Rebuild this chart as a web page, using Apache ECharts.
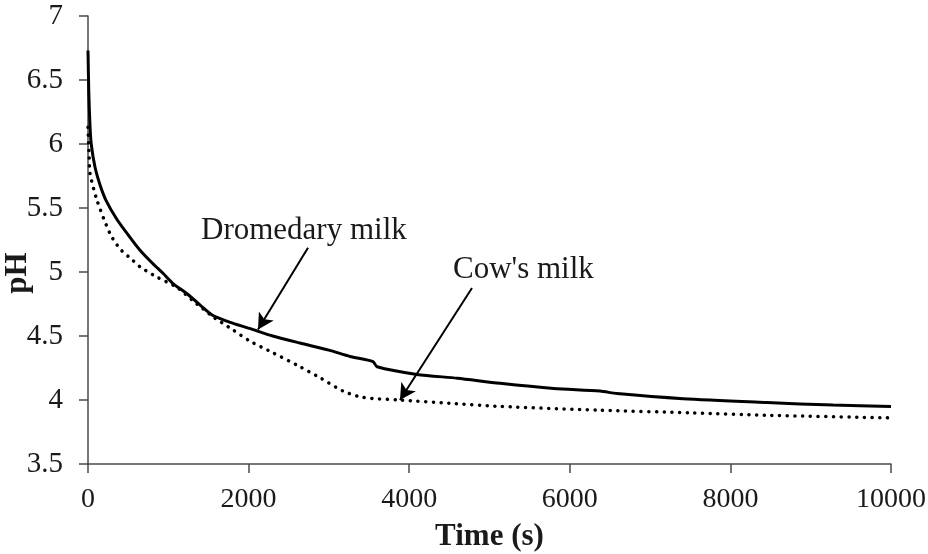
<!DOCTYPE html>
<html>
<head>
<meta charset="utf-8">
<script src="https://cdn.jsdelivr.net/npm/echarts@6/dist/echarts.min.js"></script>
<style>html,body{margin:0;padding:0;background:#fff}#c{width:928px;height:554px}</style>
</head>
<body>
<div id="c"></div>
<script>
// Time (s) and pH values
const dromTime = [0, 10, 25, 40, 87, 150, 224, 361, 500, 648, 800, 934, 1059, 1233, 1400, 1557, 1800, 2055, 2300, 2640, 3000, 3263, 3549, 3600, 4097, 4600, 5131, 5800, 6376, 6588, 7410, 8456, 9278, 10000];
const dromPH   = [6.73, 6.40, 6.14, 6.00, 5.82, 5.68, 5.56, 5.41, 5.29, 5.17, 5.07, 4.99, 4.91, 4.83, 4.74, 4.66, 4.60, 4.55, 4.50, 4.445, 4.39, 4.34, 4.30, 4.26, 4.20, 4.17, 4.13, 4.09, 4.07, 4.05, 4.01, 3.98, 3.96, 3.95];
const cowTime = [0, 15, 25, 112, 274, 400, 560, 648, 859, 1108, 1300, 1557, 1800, 2017, 2300, 2640, 2900, 3176, 3425, 3885, 4500, 5131, 6376, 7500, 8500, 10000];
const cowPH   = [6.13, 5.90, 5.77, 5.56, 5.30, 5.18, 5.09, 5.04, 4.96, 4.88, 4.78, 4.65, 4.55, 4.46, 4.37, 4.26, 4.17, 4.07, 4.02, 4.00, 3.975, 3.95, 3.92, 3.90, 3.88, 3.86];
const xTicks = [0, 2000, 4000, 6000, 8000, 10000];
const yTicks = [3.5, 4, 4.5, 5, 5.5, 6, 6.5, 7];
const seriesNames = ["Dromedary milk", "Cow's milk"];
// annotation arrows: [startTime, startPH] -> [endTime, endPH]
const dromArrow = [[2740, 5.19], [2117, 4.55]];
const cowArrow  = [[4782, 4.875], [3885, 4.0]];

const chart = echarts.init(document.getElementById('c'));
const font = '"Liberation Serif", "Times New Roman", serif';
const ink = '#1a1a1a';
const axisCol = '#4a4a4a';

function pairs(t, v) { return t.map((x, i) => [x, v[i]]); }

chart.setOption({
  animation: false,
  backgroundColor: '#fff',
  grid: { left: 88, right: 37, top: 16, bottom: 90, containLabel: false, outerBoundsMode: 'none' },
  xAxis: {
    type: 'value', min: xTicks[0], max: xTicks[xTicks.length - 1], interval: 2000,
    name: 'Time (s)', nameLocation: 'middle', nameGap: 57, nameMoveOverlap: false,
    nameTextStyle: { fontFamily: font, fontWeight: 'bold', fontSize: 31, color: ink },
    axisLine: { lineStyle: { color: axisCol, width: 1.5 } },
    axisTick: { show: true, inside: false, length: 9, lineStyle: { color: axisCol, width: 1.5 } },
    axisLabel: { fontFamily: font, fontSize: 28, color: ink, margin: 22, formatter: v => String(v) },
    splitLine: { show: false }
  },
  yAxis: {
    type: 'value', min: yTicks[0], max: yTicks[yTicks.length - 1], interval: 0.5,
    name: 'pH', nameLocation: 'middle', nameGap: 55, nameMoveOverlap: false,
    nameTextStyle: { fontFamily: font, fontWeight: 'bold', fontSize: 31, color: ink, padding: [0, 66, 0, 0] },
    axisLine: { show: true, lineStyle: { color: axisCol, width: 1.5 } },
    axisTick: { show: true, inside: false, length: 9, lineStyle: { color: axisCol, width: 1.5 } },
    axisLabel: { fontFamily: font, fontSize: 29, color: ink, margin: 25, formatter: v => String(v) },
    splitLine: { show: false }
  },
  series: [
    {
      name: seriesNames[0], type: 'line', data: pairs(dromTime, dromPH), smooth: 0.25,
      showSymbol: false, lineStyle: { color: '#000', width: 3 },
      markLine: {
        silent: true, symbol: ['none', 'arrow'], symbolSize: [13, 16],
        lineStyle: { color: '#000', width: 2, type: 'solid' }, label: { show: false },
        data: [[{ coord: dromArrow[0] }, { coord: dromArrow[1] }]]
      }
    },
    {
      name: seriesNames[1], type: 'line', data: pairs(cowTime, cowPH), smooth: 0.25,
      showSymbol: false, lineStyle: { color: '#000', width: 3.5, type: [0.1, 7.6], cap: 'round' },
      markLine: {
        silent: true, symbol: ['none', 'arrow'], symbolSize: [13, 16],
        lineStyle: { color: '#000', width: 2, type: 'solid' }, label: { show: false },
        data: [[{ coord: cowArrow[0] }, { coord: cowArrow[1] }]]
      }
    }
  ],
  graphic: [
    { type: 'text', left: 201, top: 215, style: { text: seriesNames[0], font: '31px ' + font, fill: ink } },
    { type: 'text', left: 453, top: 254, style: { text: seriesNames[1], font: '31px ' + font, fill: ink } }
  ]
});
</script>
</body>
</html>
